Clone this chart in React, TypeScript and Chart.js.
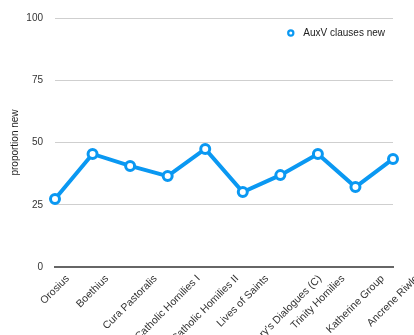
import React, { useEffect, useRef } from "react";
import { Chart, registerables } from "chart.js";

Chart.register(...registerables);

const categories = [
  "Orosius",
  "Boethius",
  "Cura Pastoralis",
  "Catholic Homilies I",
  "Catholic Homilies II",
  "Lives of Saints",
  "Gregory's Dialogues (C)",
  "Trinity Homilies",
  "Katherine Group",
  "Ancrene Riwle",
];
const auxvNew = [27.3, 45.4, 40.6, 36.5, 47.4, 30.1, 36.9, 45.4, 32.1, 43.4];
const yTicks = [0, 25, 50, 75, 100];
const seriesName = "AuxV clauses new";
const yTitle = "proportion new";

const FONT = "'Liberation Sans', Arial, Helvetica, sans-serif";
const BLUE = "#0a98f2";

const xLabelPlugin = {
  id: "xLabelPlugin",
  afterDraw(chart: any) {
    const ctx = chart.ctx;
    const xs = chart.scales.x;
    const top = chart.chartArea.bottom + 10;
    ctx.save();
    ctx.font = `10.5px ${FONT}`;
    ctx.fillStyle = "#333";
    ctx.textAlign = "center";
    ctx.textBaseline = "middle";
    (chart.data.labels as string[]).forEach((lab, i) => {
      const x = xs.getPixelForTick(i);
      const w = ctx.measureText(lab).width;
      const d = (w * Math.SQRT1_2) / 2;
      ctx.save();
      ctx.translate(x, top + d);
      ctx.rotate(-Math.PI / 4);
      ctx.fillText(lab, 0, 0);
      ctx.restore();
    });
    ctx.restore();
  },
};

const legendPlugin = {
  id: "insideLegend",
  afterDraw(chart: any) {
    const ctx = chart.ctx;
    const ds = chart.data.datasets[0];
    const area = chart.chartArea;
    ctx.save();
    ctx.font = `10px ${FONT}`;
    const w = ctx.measureText(ds.label).width;
    const tx = area.right - 8 - w;
    const cy = area.top + 15;
    ctx.fillStyle = "#222";
    ctx.textAlign = "left";
    ctx.textBaseline = "middle";
    ctx.fillText(ds.label, tx, cy);
    ctx.beginPath();
    ctx.arc(tx - 12.5, cy, 2.6, 0, Math.PI * 2);
    ctx.fillStyle = "#fff";
    ctx.fill();
    ctx.lineWidth = 2.2;
    ctx.strokeStyle = ds.borderColor;
    ctx.stroke();
    ctx.restore();
  },
};

export default function App() {
  const ref = useRef<HTMLCanvasElement>(null);
  useEffect(() => {
    if (!ref.current) return;
    const chart = new Chart(ref.current, {
      type: "line",
      data: {
        labels: categories,
        datasets: [
          {
            label: seriesName,
            data: auxvNew,
            borderColor: BLUE,
            backgroundColor: "#fff",
            borderWidth: 4,
            pointRadius: 4.5,
            pointBorderWidth: 3,
            pointBackgroundColor: "#fff",
            pointBorderColor: BLUE,
            tension: 0,
          },
        ],
      },
      options: {
        animation: false,
        responsive: false,
        maintainAspectRatio: false,
        layout: { padding: { left: 9, right: 21, top: 18, bottom: 0 } },
        plugins: {
          tooltip: { enabled: false },
          legend: { display: false },
        },
        scales: {
          x: {
            type: "category",
            offset: false,
            grid: { display: false, drawTicks: false },
            border: { display: true, color: "#666", width: 2 },
            ticks: { display: false },
            afterFit(scale: any) {
              scale.height = 68;
            },
          },
          y: {
            min: 0,
            max: 100,
            afterBuildTicks(scale: any) {
              scale.ticks = yTicks.map((v) => ({ value: v }));
            },
            grid: {
              color: "#cfcfcf",
              lineWidth: (c: any) => (c.tick && c.tick.value === 0 ? 0 : 1),
              drawTicks: false,
            },
            border: { display: false },
            ticks: {
              padding: 12,
              color: "#333",
              font: { family: FONT, size: 10 },
            },
            title: {
              display: true,
              text: yTitle,
              color: "#222",
              padding: { top: 0, bottom: 0 },
              font: { family: FONT, size: 10 },
            },
            afterFit(scale: any) {
              scale.width = 46;
            },
          },
        },
      },
      plugins: [xLabelPlugin, legendPlugin],
    });
    return () => chart.destroy();
  }, []);
  return (
    <div style={{ position: "absolute", left: 0, top: 0, width: 414, height: 335, background: "#fff", overflow: "hidden" }}>
      <canvas ref={ref} width={414} height={335} style={{ width: 414, height: 335 }} />
    </div>
  );
}
